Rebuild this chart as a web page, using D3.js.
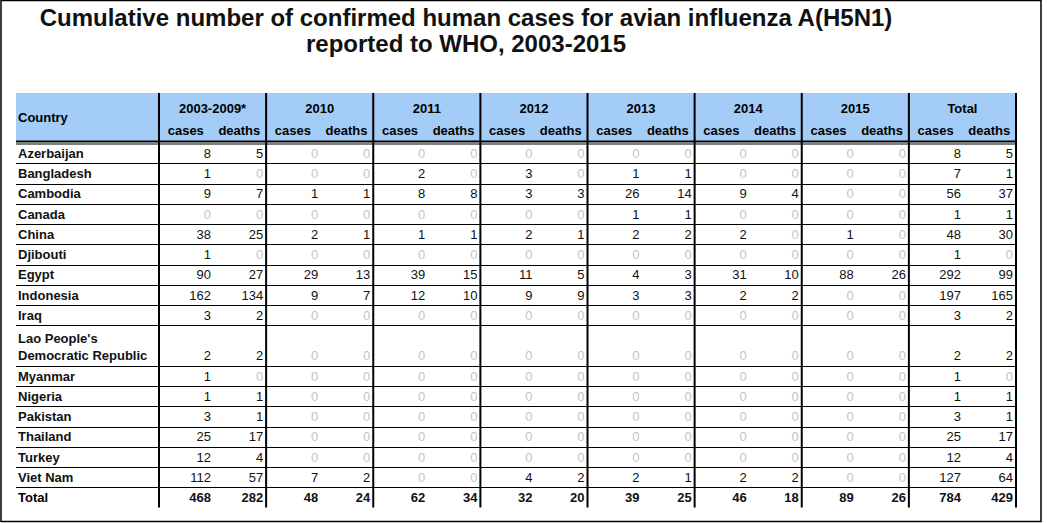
<!DOCTYPE html>
<html lang="en">
<head>
  <meta charset="UTF-8" />
  <title>Cumulative number of confirmed human cases for avian influenza A(H5N1)</title>
  <script src="https://d3js.org/d3.v7.min.js"></script>
  <style>
    body {
      margin: 0;
      background: #fff;
      font-family: "Liberation Sans", Arial, sans-serif;
    }
    svg { display: block; }
  </style>
</head>
<body>
  <div id="chart"></div>

  <script>
    const titleLines = [
      "Cumulative number of confirmed human cases for avian influenza A(H5N1)",
      "reported to WHO, 2003-2015"
    ];
    const periods = ["2003-2009*", "2010", "2011", "2012", "2013", "2014", "2015", "Total"];
    const subHeads = ["cases", "deaths"];

    const countries = [
      "Azerbaijan", "Bangladesh", "Cambodia", "Canada", "China", "Djibouti", "Egypt",
      "Indonesia", "Iraq", "Lao People's\nDemocratic Republic", "Myanmar", "Nigeria",
      "Pakistan", "Thailand", "Turkey", "Viet Nam"
    ];

    // one array per column, same order as countries
    const cases0309  = [8, 1, 9, 0, 38, 1, 90, 162, 3, 2, 1, 1, 3, 25, 12, 112];
    const deaths0309 = [5, 0, 7, 0, 25, 0, 27, 134, 2, 2, 0, 1, 1, 17, 4, 57];
    const cases2010  = [0, 0, 1, 0, 2, 0, 29, 9, 0, 0, 0, 0, 0, 0, 0, 7];
    const deaths2010 = [0, 0, 1, 0, 1, 0, 13, 7, 0, 0, 0, 0, 0, 0, 0, 2];
    const cases2011  = [0, 2, 8, 0, 1, 0, 39, 12, 0, 0, 0, 0, 0, 0, 0, 0];
    const deaths2011 = [0, 0, 8, 0, 1, 0, 15, 10, 0, 0, 0, 0, 0, 0, 0, 0];
    const cases2012  = [0, 3, 3, 0, 2, 0, 11, 9, 0, 0, 0, 0, 0, 0, 0, 4];
    const deaths2012 = [0, 0, 3, 0, 1, 0, 5, 9, 0, 0, 0, 0, 0, 0, 0, 2];
    const cases2013  = [0, 1, 26, 1, 2, 0, 4, 3, 0, 0, 0, 0, 0, 0, 0, 2];
    const deaths2013 = [0, 1, 14, 1, 2, 0, 3, 3, 0, 0, 0, 0, 0, 0, 0, 1];
    const cases2014  = [0, 0, 9, 0, 2, 0, 31, 2, 0, 0, 0, 0, 0, 0, 0, 2];
    const deaths2014 = [0, 0, 4, 0, 0, 0, 10, 2, 0, 0, 0, 0, 0, 0, 0, 2];
    const cases2015  = [0, 0, 0, 0, 1, 0, 88, 0, 0, 0, 0, 0, 0, 0, 0, 0];
    const deaths2015 = [0, 0, 0, 0, 0, 0, 26, 0, 0, 0, 0, 0, 0, 0, 0, 0];
    const casesTotal  = [8, 7, 56, 1, 48, 1, 292, 197, 3, 2, 1, 1, 3, 25, 12, 127];
    const deathsTotal = [5, 1, 37, 1, 30, 0, 99, 165, 2, 2, 0, 1, 1, 17, 4, 64];

    const totalCases  = [468, 48, 62, 32, 39, 46, 89, 784];
    const totalDeaths = [282, 24, 34, 20, 25, 18, 26, 429];

    const casesCols  = [cases0309, cases2010, cases2011, cases2012, cases2013, cases2014, cases2015, casesTotal];
    const deathsCols = [deaths0309, deaths2010, deaths2011, deaths2012, deaths2013, deaths2014, deaths2015, deathsTotal];

    const W = 1047, H = 523;
    const tableLeft = 16, firstCol = 159, tableRight = 1016;
    const headTop = 93, headBottom = 141;
    const bodyTop = 143, rowH = 20.25;

    const svg = d3.select("#chart")
      .append("svg")
      .attr("width", W)
      .attr("height", H);

    // outer frame
    svg.append("rect")
      .attr("x", 1).attr("y", 0.5)
      .attr("width", 1040).attr("height", 521)
      .attr("fill", "none")
      .attr("stroke", "#000")
      .attr("stroke-width", 1.5);

    // title
    svg.append("g").selectAll("text")
      .data(titleLines)
      .join("text")
      .attr("x", 466)
      .attr("y", (d, i) => 26 + i * 26)
      .attr("text-anchor", "middle")
      .style("font-size", "24px")
      .style("font-weight", "bold")
      .attr("fill", "#111")
      .text(d => d);

    // scales
    const x = d3.scaleBand()
      .domain(periods)
      .range([firstCol, tableRight]);

    const sub = d3.scaleBand()
      .domain(subHeads)
      .range([0, x.bandwidth()]);

    // row units: Lao row takes two
    const rowUnits = countries.map(c => c.includes("\n") ? 2 : 1);
    const rowStart = [];
    rowUnits.reduce((acc, u, i) => { rowStart[i] = acc; return acc + u; }, 0);
    const nUnits = d3.sum(rowUnits) + 1; // + total row
    const y = d3.scaleLinear()
      .domain([0, nUnits])
      .range([bodyTop, bodyTop + nUnits * rowH]);

    // header band
    svg.append("rect")
      .attr("x", tableLeft).attr("y", headTop)
      .attr("width", tableRight - tableLeft)
      .attr("height", headBottom - headTop)
      .attr("fill", "#a3cdf6");

    svg.append("text")
      .attr("x", 18).attr("y", 122)
      .style("font-size", "13px")
      .style("font-weight", "bold")
      .text("Country");

    const head = svg.append("g").selectAll("g")
      .data(periods)
      .join("g")
      .attr("transform", d => `translate(${x(d)},0)`);

    head.append("text")
      .attr("x", x.bandwidth() / 2)
      .attr("y", 113)
      .attr("text-anchor", "middle")
      .style("font-size", "13px")
      .style("font-weight", "bold")
      .text(d => d);

    head.selectAll("text.sub")
      .data(subHeads)
      .join("text")
      .attr("class", "sub")
      .attr("x", d => sub(d) + sub.bandwidth() / 2)
      .attr("y", 135)
      .attr("text-anchor", "middle")
      .style("font-size", "13px")
      .style("font-weight", "bold")
      .text(d => d);

    // horizontal rules
    svg.append("line")
      .attr("x1", tableLeft).attr("x2", tableRight)
      .attr("y1", headBottom + 0.5).attr("y2", headBottom + 0.5)
      .attr("stroke", "#000").attr("stroke-width", 2);
    svg.append("line")
      .attr("x1", tableLeft).attr("x2", tableRight)
      .attr("y1", headBottom + 3).attr("y2", headBottom + 3)
      .attr("stroke", "#000").attr("stroke-width", 1);

    const lineUnits = rowStart.slice(1).concat([nUnits - 1]);
    svg.append("g").selectAll("line")
      .data(lineUnits)
      .join("line")
      .attr("x1", tableLeft).attr("x2", tableRight)
      .attr("y1", d => Math.round(y(d)) + 0.5)
      .attr("y2", d => Math.round(y(d)) + 0.5)
      .attr("stroke", "#000")
      .attr("stroke-width", 1.2);

    // vertical rules
    const vx = periods.map(p => x(p)).concat([tableRight]);
    svg.append("g").selectAll("line")
      .data(vx)
      .join("line")
      .attr("x1", d => d).attr("x2", d => d)
      .attr("y1", headTop).attr("y2", y(nUnits))
      .attr("stroke", "#000")
      .attr("stroke-width", 2);

    // body rows
    const rows = svg.append("g").selectAll("g")
      .data(countries)
      .join("g");

    rows.each(function (c, i) {
      const g = d3.select(this);
      const lines = c.split("\n");
      const bottom = y(rowStart[i] + rowUnits[i]);
      const baseY = bottom - 5.5;

      g.selectAll("text.name")
        .data(lines)
        .join("text")
        .attr("class", "name")
        .attr("x", 18)
        .attr("y", (d, k) => baseY - (lines.length - 1 - k) * 17)
        .style("font-size", "13px")
        .style("font-weight", "bold")
        .attr("fill", "#111")
        .text(d => d);

      periods.forEach((p, j) => {
        [casesCols[j][i], deathsCols[j][i]].forEach((v, k) => {
          g.append("text")
            .attr("x", x(p) + sub(subHeads[k]) + sub.bandwidth() - (k === 0 ? 1.5 : 3))
            .attr("y", baseY)
            .attr("text-anchor", "end")
            .style("font-size", "13px")
            .attr("fill", v === 0 ? "#c4c4c4" : "#111")
            .text(v);
        });
      });
    });

    // total row
    const tBase = y(nUnits) - 5.5;
    const tot = svg.append("g");
    tot.append("text")
      .attr("x", 18).attr("y", tBase)
      .style("font-size", "13px")
      .style("font-weight", "bold")
      .text("Total");

    periods.forEach((p, j) => {
      [totalCases[j], totalDeaths[j]].forEach((v, k) => {
        tot.append("text")
          .attr("x", x(p) + sub(subHeads[k]) + sub.bandwidth() - (k === 0 ? 1.5 : 3))
          .attr("y", tBase)
          .attr("text-anchor", "end")
          .style("font-size", "13px")
          .style("font-weight", "bold")
          .attr("fill", "#111")
          .text(v);
      });
    });
  </script>
</body>
</html>
